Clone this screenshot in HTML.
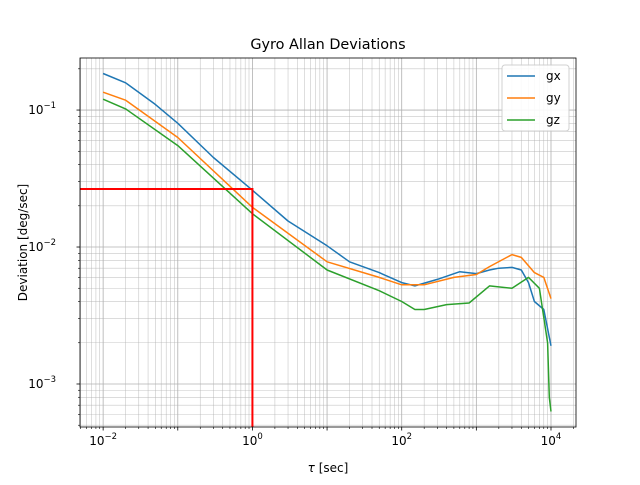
<!DOCTYPE html>
<html><head><meta charset="utf-8"><style>
body{margin:0;background:#fff;font-family:"Liberation Sans","DejaVu Sans",sans-serif}
svg text{font-family:"DejaVu Sans","Liberation Sans",sans-serif}
</style></head><body>
<svg id="c" width="640" height="480" xmlns="http://www.w3.org/2000/svg"></svg>
<script>
const gxTau=[0.01,0.02,0.05,0.1,0.3,1,3,10,20,50,100,150,300,600,1000,1500,2000,3000,4000,5000,6000,8000,10000];
const gxVal=[0.185,0.158,0.11,0.08,0.045,0.026,0.0155,0.0102,0.0078,0.0065,0.0055,0.0052,0.0058,0.0066,0.0064,0.0068,0.007,0.0071,0.0068,0.0055,0.004,0.0035,0.0019];
const gyTau=[0.01,0.02,0.1,1,10,50,100,200,500,1000,1500,3000,4000,6000,8000,10000];
const gyVal=[0.135,0.118,0.063,0.0195,0.0078,0.006,0.0053,0.0053,0.006,0.0063,0.0072,0.0088,0.0084,0.0065,0.006,0.0042];
const gzTau=[0.01,0.02,0.1,1,10,50,100,150,200,400,800,1500,3000,5000,7000,9000,9500,10000];
const gzVal=[0.12,0.102,0.055,0.0175,0.0068,0.0048,0.004,0.0035,0.0035,0.0038,0.0039,0.0052,0.005,0.006,0.005,0.002,0.0008,0.00063];
const seriesNames=["gx","gy","gz"];
const markTau=[1];
const markVal=[0.0265];
const xTickExp=[-2,-1,0,1,2,3,4];
const yTickExp=[-3,-2,-1];

const L=80,R=576,T=58,B=427;
const xMin=-2.31,xMax=4.335,yMin=-3.314,yMax=-0.62;
const X=v=>L+(Math.log10(v)-xMin)/(xMax-xMin)*(R-L);
const Y=v=>B-(Math.log10(v)-yMin)/(yMax-yMin)*(B-T);
const svg=document.getElementById('c');
const NS="http://www.w3.org/2000/svg";
function mk(tag,attrs,parent){const e=document.createElementNS(NS,tag);for(const k in attrs)e.setAttribute(k,attrs[k]);(parent||svg).appendChild(e);return e;}

// grid
for(let e=-3;e<=4;e++)for(let m=1;m<10;m++){const v=m*Math.pow(10,e);const x=X(v);if(x<L||x>R)continue;
 const g=mk('line',{x1:x,x2:x,y1:T,y2:B,stroke:'#b0b0b0','stroke-width':m==1?0.8:0.6,opacity:m==1?1:0.7});
 
 const t=mk('line',{x1:x,x2:x,y1:B,y2:B+(m==1?3.5:2),stroke:'#000','stroke-width':m==1?0.8:0.6});
 }
for(let e=-4;e<=0;e++)for(let m=1;m<10;m++){const v=m*Math.pow(10,e);const y=Y(v);if(y<T||y>B)continue;
 const g=mk('line',{x1:L,x2:R,y1:y,y2:y,stroke:'#b0b0b0','stroke-width':m==1?0.8:0.6,opacity:m==1?1:0.7});
 
 const t=mk('line',{x1:L-(m==1?3.5:2),x2:L,y1:y,y2:y,stroke:'#000','stroke-width':m==1?0.8:0.6});
 }

// tick labels
xTickExp.forEach(e=>{if(e%2!==0)return;const t=mk('text',{x:X(Math.pow(10,e)),y:B+18,'text-anchor':'middle','font-size':12});
 
 t.innerHTML='10<tspan dy="-6" font-size="8.5">'+(e<0?'\u2212'+(-e):e)+'</tspan>';});
yTickExp.forEach(e=>{const t=mk('text',{x:L-24,y:Y(Math.pow(10,e))+4,'text-anchor':'end','font-size':12});
 
 t.innerHTML='10<tspan dy="-6" font-size="8.5">\u2212'+(-e)+'</tspan>';});

// series
const colors=['#1f77b4','#ff7f0e','#2ca02c'];
[[gxTau,gxVal],[gyTau,gyVal],[gzTau,gzVal]].forEach((s,i)=>{
 const pts=s[0].map((t,j)=>X(t).toFixed(1)+','+Y(s[1][j]).toFixed(1)).join(' ');
 const p=mk('polyline',{points:pts,fill:'none',stroke:colors[i],'stroke-width':1.5,'stroke-linejoin':'round'});
 });

// red marker lines
const mx=X(markTau[0]),my=Y(markVal[0]);
const rh=mk('polyline',{points:`${L},${my} ${mx},${my} ${mx},${B}`,fill:'none',stroke:'#ff0000','stroke-width':2});


// frame
const fr=mk('rect',{x:L,y:T,width:R-L,height:B-T,fill:'none',stroke:'#000','stroke-width':0.8});


// titles
const ti=mk('text',{x:(L+R)/2,y:49,'text-anchor':'middle','font-size':14.4});ti.textContent='Gyro Allan Deviations';

const xl=mk('text',{x:(L+R)/2,y:472,'text-anchor':'middle','font-size':12});xl.innerHTML='<tspan font-style="italic">τ</tspan> [sec]';

const yl=mk('text',{x:27,y:(T+B)/2,'text-anchor':'middle','font-size':12,transform:`rotate(-90 27 ${(T+B)/2})`});yl.textContent='Deviation [deg/sec]';


// legend
const lg=mk('rect',{x:502,y:65,width:67,height:66,fill:'#fff',stroke:'#ccc','stroke-width':1,rx:3,opacity:0.9});

seriesNames.forEach((n,i)=>{const y=76+i*22;
 const l=mk('line',{x1:507,x2:535,y1:y,y2:y,stroke:colors[i],'stroke-width':1.5});
 
 const t=mk('text',{x:546,y:y+4,'font-size':12});t.textContent=n;
 });
</script>
</body></html>
